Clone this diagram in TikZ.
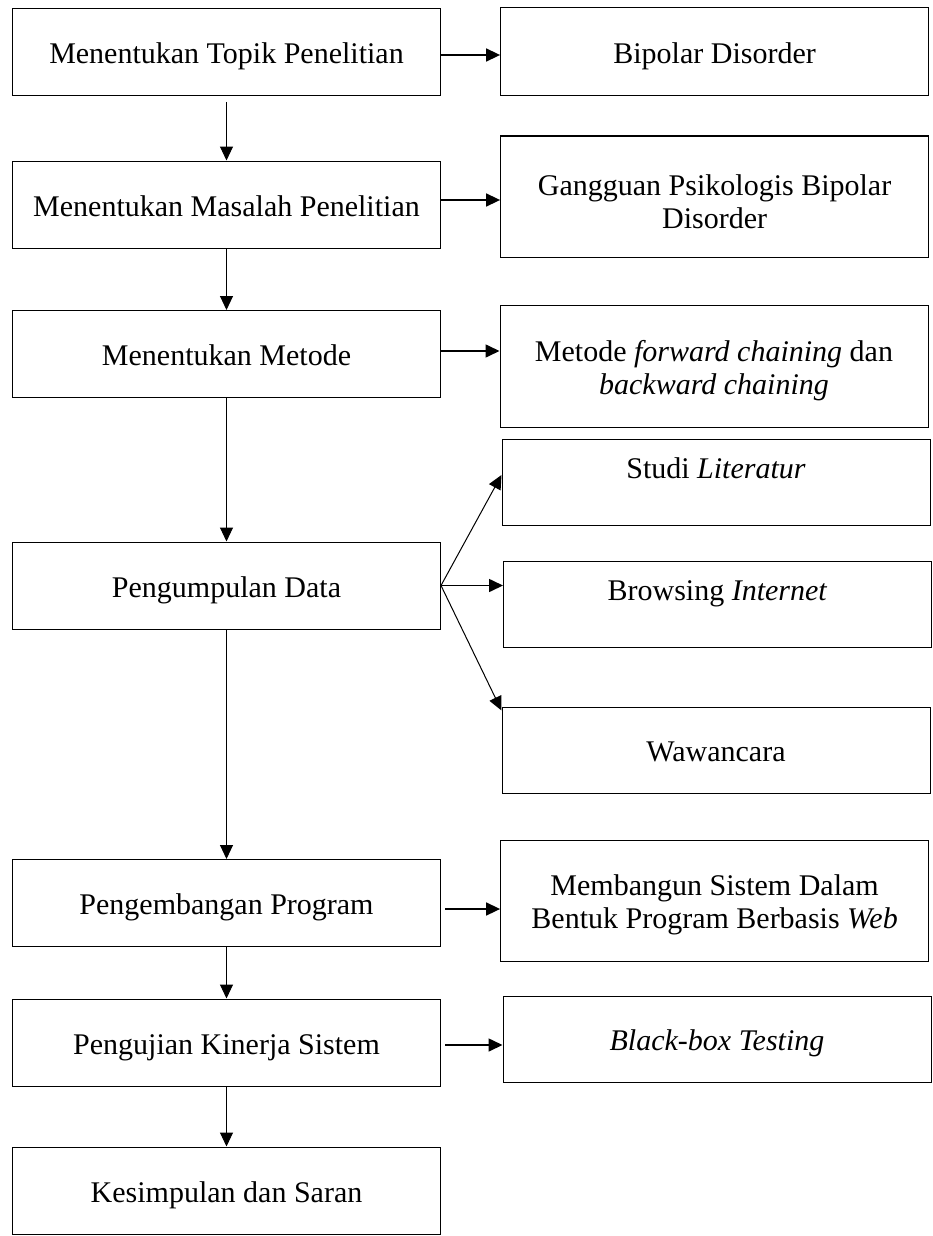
\documentclass[tikz,border=0pt]{standalone}
\usepackage{fontspec}
\setmainfont{Liberation Serif}
\usetikzlibrary{arrows.meta}

\begin{document}
\begin{tikzpicture}[x=1pt, y=-1pt]
    \tikzset{
        flow box/.style={draw, line width=1pt, minimum width=428pt, minimum height=87pt,
            align=center, inner sep=2pt, text height=23pt, text depth=0pt,
            font=\fontsize{30}{33}\selectfont},
        result box/.style={flow box},
        flow arrow/.style={line width=1pt, -{Triangle[length=14pt, width=13pt]}},
        side arrow/.style={flow arrow, line width=1.6pt},
    }
    \useasboundingbox (0,0) rectangle (932,1236);

    % left column: the steps, (226.5,y) is the centre
    \foreach \name/\y/\txt in {topik/52/{Menentukan Topik Penelitian},
            masalah/204.5/{Menentukan Masalah Penelitian},
            metode/354/{Menentukan Metode},
            data/585.5/{Pengumpulan Data},
            program/903/{Pengembangan Program},
            uji/1042.5/{Pengujian Kinerja Sistem},
            simpulan/1190.5/{Kesimpulan dan Saran}} {
        \node[flow box] (\name) at (226.5,\y) {\txt};
    }

    % right column: (x,y) is the centre, \h the height, \t/\d text height and depth
    % (two lines want a taller text height, depth 31 lifts the text to the top)
    \foreach \name/\x/\y/\h/\t/\d/\txt in {bipolar/714.6/52/88/23/0/{Bipolar Disorder},
            gangguan/714.6/196.5/121/63/0/{Gangguan Psikologis Bipolar\\ Disorder},
            chaining/714/366/122/56/0/{Metode \textit{forward chaining} dan\\ \textit{backward chaining}},
            studi/716/482/86/23/31/{Studi \textit{Literatur}},
            browsing/717.5/604/86/23/31/{Browsing \textit{Internet}},
            wawancara/716/750/86/23/0/{Wawancara},
            web/714.6/900.5/121/56/0/{Membangun Sistem Dalam\\ Bentuk Program Berbasis \textit{Web}},
            blackbox/717/1039/86/23/0/{\textit{Black-box Testing}}} {
        \node[result box, minimum height=\h pt, text height=\t pt, text depth=\d pt] (\name) at (\x,\y) {\txt};
    }

    % down the steps
    \draw[flow arrow, shorten <=6pt] (topik) -- (masalah);
    \foreach \a/\b in {masalah/metode, metode/data, data/program, program/uji, uji/simpulan} {
        \draw[flow arrow] (\a) -- (\b);
    }

    % step -> result, \s moves the arrow off the centre, \g leaves a gap
    \foreach \a/\b/\s/\g in {topik/bipolar/-3/0, masalah/gangguan/4.5/0, metode/chaining/3/0,
            program/web/-6/4, uji/blackbox/-2.5/4} {
        \draw[side arrow, shorten <=\g pt] ([yshift=\s pt]\a.east) -- ([yshift=\s pt]\a.east -| \b.west);
    }

    % data collection fans out
    \draw[flow arrow] (data.east) -- ([yshift=7pt]studi.west);
    \draw[side arrow] (data.east) -- (data.east -| browsing.west);
    \draw[flow arrow] (data.east) -- ([yshift=-4pt]wawancara.north west);
\end{tikzpicture}
\end{document}
